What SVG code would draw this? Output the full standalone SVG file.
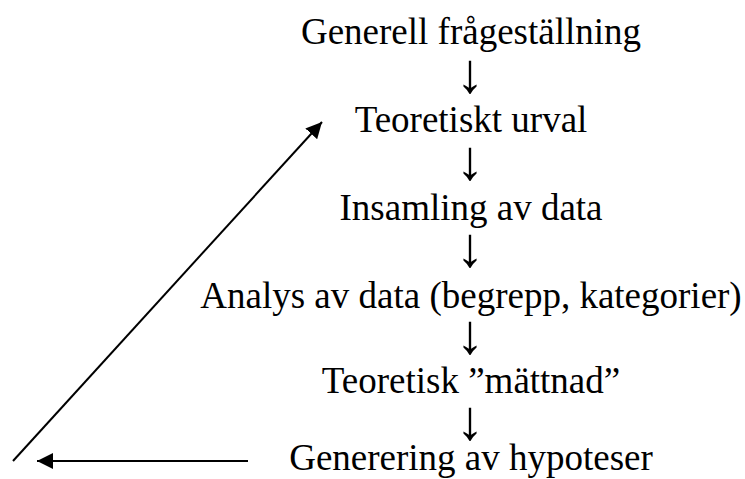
<svg xmlns="http://www.w3.org/2000/svg" width="745" height="479" viewBox="0 0 745 479">
<defs>
<marker id="ah" viewBox="0 0 10 10" refX="10" refY="5" markerWidth="16" markerHeight="16" markerUnits="userSpaceOnUse" orient="auto">
<path d="M0,0 L10,5 L0,10 Z" fill="#000"/>
</marker>
<style>
.t{font-size:37px;fill:#000;text-anchor:middle}
.a{font-size:56px;fill:#000;text-anchor:middle}
.c{stroke:#000;stroke-width:2;fill:none}
</style>
</defs>
<rect width="745" height="479" fill="#fff"/>
<g font-family="Liberation Serif, Times New Roman, serif">
<g id="n1"><text class="t" x="471" y="44">Generell frågeställning</text></g>
<g id="a1"><text class="a" x="470" y="92">↓</text></g>
<g id="n2"><text class="t" x="471" y="132">Teoretiskt urval</text></g>
<g id="a2"><text class="a" x="470" y="179">↓</text></g>
<g id="n3"><text class="t" x="471" y="220">Insamling av data</text></g>
<g id="a3"><text class="a" x="470" y="266">↓</text></g>
<g id="n4"><text class="t" x="471" y="308">Analys av data (begrepp, kategorier)</text></g>
<g id="a4"><text class="a" x="470" y="353">↓</text></g>
<g id="n5"><text class="t" x="471" y="393">Teoretisk ”mättnad”</text></g>
<g id="a5"><text class="a" x="470" y="439">↓</text></g>
<g id="n6"><text class="t" x="471" y="470">Generering av hypoteser</text></g>
</g>
<g id="connectors">
<line class="c" x1="248" y1="461" x2="37" y2="461" marker-end="url(#ah)"/>
<line class="c" x1="13" y1="461" x2="322" y2="122" marker-end="url(#ah)"/>
</g>
</svg>
